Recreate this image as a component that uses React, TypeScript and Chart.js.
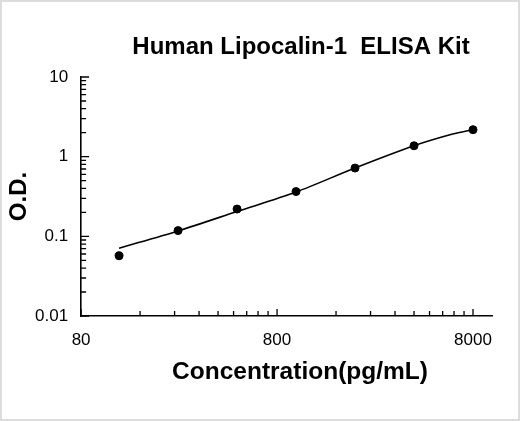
import { useEffect, useRef } from 'react';
import { Chart, registerables } from 'chart.js';

Chart.register(...registerables);

// standards (pg/mL) and measured O.D.
const concentrations = [125, 250, 500, 1000, 2000, 4000, 8000];
const odValues = [0.057, 0.118, 0.22, 0.365, 0.72, 1.37, 2.18];

// fitted curve
const fitConc = [125, 250, 500, 1000, 2000, 4000, 6300, 8000];
const fitOd = [0.071, 0.117, 0.205, 0.36, 0.72, 1.37, 1.92, 2.18];

const xMajor = [80, 800, 8000];
const xMinor = [160, 240, 320, 400, 480, 560, 640, 720, 1600, 2400, 3200, 4000, 4800, 5600, 6400, 7200];
const yMajor = [0.01, 0.1, 1, 10];
const yMinor = [0.02, 0.03, 0.04, 0.05, 0.06, 0.07, 0.08, 0.09, 0.2, 0.3, 0.4, 0.5, 0.6, 0.7, 0.8, 0.9, 2, 3, 4, 5, 6, 7, 8, 9];

const chartTitle = 'Human Lipocalin-1  ELISA Kit';
const xTitle = 'Concentration(pg/mL)';

const font = "'Liberation Sans', Arial, sans-serif";

// tick marks on the inner side of the axes + the two centred titles
const decorations = {
    id: 'decorations',
    afterDraw(chart: any) {
        const { ctx, chartArea } = chart;
        const xs = chart.scales.x;
        const ys = chart.scales.y;
        ctx.save();
        ctx.strokeStyle = '#000';
        ctx.lineWidth = 1.3;
        ctx.beginPath();
        xs.ticks.forEach((t: any) => {
            const px = xs.getPixelForValue(t.value);
            const len = xMajor.includes(t.value) ? 7 : 5;
            ctx.moveTo(px, chartArea.bottom);
            ctx.lineTo(px, chartArea.bottom - len);
        });
        ys.ticks.forEach((t: any) => {
            const py = ys.getPixelForValue(t.value);
            const len = yMajor.includes(t.value) ? 8 : 5;
            ctx.moveTo(chartArea.left, py);
            ctx.lineTo(chartArea.left + len, py);
        });
        ctx.stroke();

        ctx.fillStyle = '#000';
        ctx.textAlign = 'center';
        ctx.textBaseline = 'middle';
        ctx.font = `bold 24px ${font}`;
        ctx.fillText(chartTitle, 301, 47);
        ctx.font = `bold 24.5px ${font}`;
        ctx.fillText(xTitle, 300, 372);
        ctx.restore();
    },
};

const App = () => {
    const chartRef = useRef<HTMLCanvasElement | null>(null);

    useEffect(() => {
        document.body.style.margin = '0';
        const ctx = chartRef.current;
        if (!ctx) return;

        const newChart = new Chart(ctx, {
            type: 'scatter',
            data: {
                datasets: [
                    {
                        label: 'Standards',
                        data: concentrations.map((c, i) => ({ x: c, y: odValues[i] })),
                        backgroundColor: '#000',
                        borderColor: '#000',
                        pointRadius: 4,
                        showLine: false,
                    },
                    {
                        label: 'Fit',
                        data: fitConc.map((c, i) => ({ x: c, y: fitOd[i] })),
                        borderColor: '#000',
                        borderWidth: 1.6,
                        pointRadius: 0,
                        showLine: true,
                        tension: 0.3,
                    },
                ],
            },
            options: {
                responsive: false,
                animation: false,
                layout: { padding: { left: 4.6, right: 28, bottom: 56.6, top: 77 } },
                plugins: {
                    legend: { display: false },
                    tooltip: { enabled: false },
                    title: { display: false },
                },
                scales: {
                    x: {
                        type: 'logarithmic',
                        min: 80,
                        max: 10000,
                        afterBuildTicks: (scale: any) => {
                            scale.ticks = [...xMajor, ...xMinor].sort((a, b) => a - b).map((v) => ({ value: v }));
                        },
                        grid: { display: false, drawTicks: false },
                        border: { display: true, color: '#000', width: 1.6 },
                        ticks: {
                            autoSkip: false,
                            maxRotation: 0,
                            padding: 14,
                            color: '#000',
                            font: { family: font, size: 17 },
                            callback: (v: any) => (xMajor.includes(Number(v)) ? String(v) : ''),
                        },
                    },
                    y: {
                        type: 'logarithmic',
                        min: 0.01,
                        max: 10,
                        afterBuildTicks: (scale: any) => {
                            scale.ticks = [...yMajor, ...yMinor].sort((a, b) => a - b).map((v) => ({ value: v }));
                        },
                        grid: { display: false, drawTicks: false },
                        border: { display: true, color: '#000', width: 1.6 },
                        ticks: {
                            autoSkip: false,
                            padding: 13,
                            color: '#000',
                            font: { family: font, size: 17 },
                            callback: (v: any) => (yMajor.includes(Number(v)) ? String(v) : ''),
                        },
                        title: {
                            display: true,
                            text: 'O.D.',
                            color: '#000',
                            font: { family: font, size: 24, weight: 'bold' },
                            padding: { top: 0, bottom: -11.4 },
                        },
                    },
                },
            },
            plugins: [decorations],
        });

        return () => {
            newChart.destroy();
        };
    }, []);

    return (
        <div style={{ width: 520, height: 421, boxShadow: 'inset 0 0 0 2px #dcdcdc', background: '#fff' }}>
            <canvas ref={chartRef} width={520} height={421}></canvas>
        </div>
    );
};

export default App;
